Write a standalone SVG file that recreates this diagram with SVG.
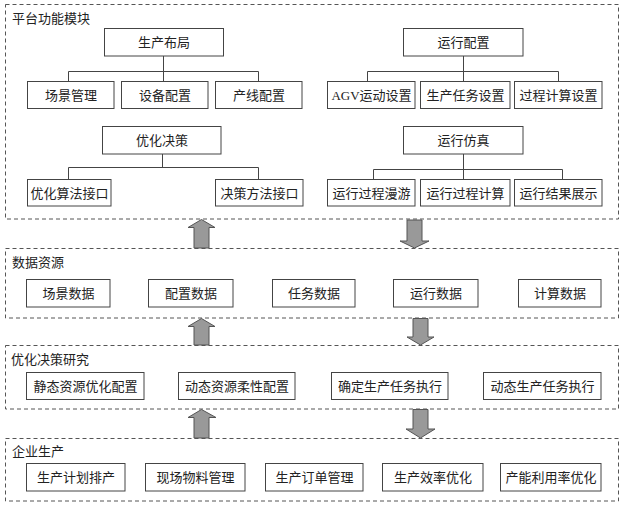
<svg xmlns="http://www.w3.org/2000/svg" width="624" height="507" viewBox="0 0 624 507">
<style>
.panel{fill:none;stroke:#555;stroke-width:1;stroke-dasharray:4,3}
.box{fill:#fff;stroke:#444;stroke-width:1}
.t{font-family:"Liberation Serif","Noto Sans CJK SC",serif;font-size:13px;fill:#222;text-anchor:middle;dominant-baseline:central}
.title{font-family:"Liberation Serif","Noto Sans CJK SC",serif;font-size:13px;fill:#222;dominant-baseline:central}
.ln{fill:none;stroke:#444;stroke-width:1}
.arr{fill:#999;stroke:#555;stroke-width:1}
</style>
<rect fill="#fff" x="0" y="0" width="624" height="507"/>
<g id="panel-platform">
<rect class="panel" x="5.5" y="4.5" width="613" height="214.5"/>
<text class="title" x="12" y="18.5">平台功能模块</text>
</g>
<g id="panel-data">
<rect class="panel" x="5.5" y="248.5" width="613" height="69.5"/>
<text class="title" x="12" y="262">数据资源</text>
</g>
<g id="panel-opt">
<rect class="panel" x="5.5" y="345.5" width="613" height="63.5"/>
<text class="title" x="11" y="359">优化决策研究</text>
</g>
<g id="panel-ent">
<rect class="panel" x="5.5" y="438.5" width="613" height="62.5"/>
<text class="title" x="12" y="451">企业生产</text>
</g>
<g id="connectors">
<path class="ln" d="M163.5 56V71.5M68.5 81V71.5H258.5V81M163.5 71.5V81"/>
<path class="ln" d="M162.5 154V167.5M68.5 179V167.5H258.5V179"/>
<path class="ln" d="M463.5 56V71.5M367.5 81V71.5H558.5V81M463.5 71.5V81"/>
<path class="ln" d="M463.5 154V169.5M373.5 179V169.5H562.5V179M463.5 169.5V179"/>
<polygon class="arr" points="201.5,219.5 215,227.5 209,227.5 209,248 194,248 194,227.5 188,227.5"/>
<polygon class="arr" points="407,220 422,220 422,241 429,241 414.5,248 400,241 407,241"/>
<polygon class="arr" points="201.5,318.5 215,326.5 209,326.5 209,345 194,345 194,326.5 188,326.5"/>
<polygon class="arr" points="413,318.5 428,318.5 428,337 434,337 420.5,345 407,337 413,337"/>
<polygon class="arr" points="201.5,409.5 216,417.5 209,417.5 209,438 194,438 194,417.5 188,417.5"/>
<polygon class="arr" points="413,409.5 428,409.5 428,429 435,429 420.5,438 406,429 413,429"/>
</g>
<g id="n-layout"><rect class="box" x="104.5" y="28.5" width="119" height="27.5"/><text class="t" x="164" y="42.5">生产布局</text></g>
<g id="n-scene"><rect class="box" x="27.5" y="81.5" width="86.5" height="27"/><text class="t" x="71" y="95">场景管理</text></g>
<g id="n-equip"><rect class="box" x="121.5" y="81.5" width="86.5" height="27"/><text class="t" x="165" y="95">设备配置</text></g>
<g id="n-line"><rect class="box" x="215.5" y="81.5" width="86.5" height="27"/><text class="t" x="259" y="95">产线配置</text></g>
<g id="n-optdec"><rect class="box" x="102.5" y="126.5" width="118.5" height="27.5"/><text class="t" x="162" y="140.5">优化决策</text></g>
<g id="n-algo"><rect class="box" x="27.5" y="179.5" width="83.5" height="26.5"/><text class="t" x="69.5" y="193">优化算法接口</text></g>
<g id="n-method"><rect class="box" x="215.5" y="179.5" width="87.5" height="26.5"/><text class="t" x="259.5" y="193">决策方法接口</text></g>
<g id="n-runcfg"><rect class="box" x="403.5" y="28.5" width="119.5" height="27.5"/><text class="t" x="463.5" y="42.5">运行配置</text></g>
<g id="n-agv"><rect class="box" x="327.5" y="81.5" width="87.5" height="27"/><text class="t" x="371.5" y="95">AGV运动设置</text></g>
<g id="n-task"><rect class="box" x="420.5" y="81.5" width="89.5" height="27"/><text class="t" x="465.5" y="95">生产任务设置</text></g>
<g id="n-calc"><rect class="box" x="514.5" y="81.5" width="87.5" height="27"/><text class="t" x="558.5" y="95">过程计算设置</text></g>
<g id="n-sim"><rect class="box" x="403.5" y="126.5" width="119.5" height="27.5"/><text class="t" x="463.5" y="140.5">运行仿真</text></g>
<g id="n-roam"><rect class="box" x="327.5" y="179.5" width="87.5" height="26.5"/><text class="t" x="371.5" y="193">运行过程漫游</text></g>
<g id="n-runcalc"><rect class="box" x="420.5" y="179.5" width="89.5" height="26.5"/><text class="t" x="465.5" y="193">运行过程计算</text></g>
<g id="n-result"><rect class="box" x="514.5" y="179.5" width="87.5" height="26.5"/><text class="t" x="558.5" y="193">运行结果展示</text></g>
<g id="n-d1"><rect class="box" x="26.5" y="279.5" width="83.5" height="27.5"/><text class="t" x="68.5" y="293">场景数据</text></g>
<g id="n-d2"><rect class="box" x="148.5" y="279.5" width="84.5" height="27.5"/><text class="t" x="191" y="293">配置数据</text></g>
<g id="n-d3"><rect class="box" x="272.5" y="279.5" width="82.5" height="27.5"/><text class="t" x="314" y="293">任务数据</text></g>
<g id="n-d4"><rect class="box" x="393.5" y="279.5" width="84.5" height="27.5"/><text class="t" x="436" y="293">运行数据</text></g>
<g id="n-d5"><rect class="box" x="518.5" y="279.5" width="82.5" height="27.5"/><text class="t" x="560" y="293">计算数据</text></g>
<g id="n-o1"><rect class="box" x="26.5" y="372.5" width="117.5" height="27"/><text class="t" x="85.5" y="386">静态资源优化配置</text></g>
<g id="n-o2"><rect class="box" x="178.5" y="372.5" width="116.5" height="27"/><text class="t" x="237" y="386">动态资源柔性配置</text></g>
<g id="n-o3"><rect class="box" x="331.5" y="372.5" width="116.5" height="27"/><text class="t" x="390" y="386">确定生产任务执行</text></g>
<g id="n-o4"><rect class="box" x="483.5" y="372.5" width="117.5" height="27"/><text class="t" x="542.5" y="386">动态生产任务执行</text></g>
<g id="n-e1"><rect class="box" x="26.5" y="463.5" width="98.5" height="27.5"/><text class="t" x="76" y="477.5">生产计划排产</text></g>
<g id="n-e2"><rect class="box" x="145.5" y="463.5" width="99.5" height="27.5"/><text class="t" x="195.5" y="477.5">现场物料管理</text></g>
<g id="n-e3"><rect class="box" x="265.5" y="463.5" width="97.5" height="27.5"/><text class="t" x="314.5" y="477.5">生产订单管理</text></g>
<g id="n-e4"><rect class="box" x="382.5" y="463.5" width="100.5" height="27.5"/><text class="t" x="433" y="477.5">生产效率优化</text></g>
<g id="n-e5"><rect class="box" x="500.5" y="463.5" width="100.5" height="27.5"/><text class="t" x="551" y="477.5">产能利用率优化</text></g>
</svg>
